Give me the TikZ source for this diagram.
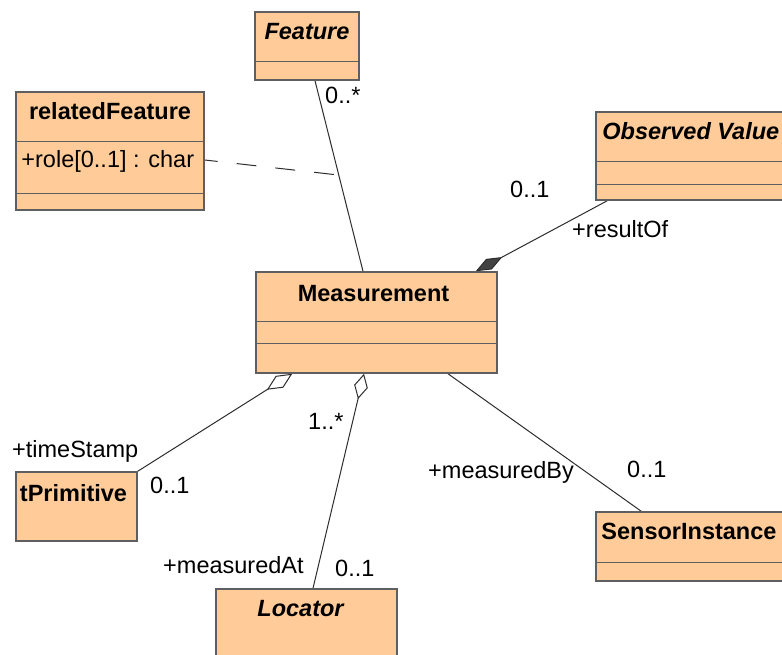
\documentclass[tikz,border=0pt]{standalone}
\usepackage{fontspec}
\setmainfont{Liberation Sans}
\usetikzlibrary{arrows.meta,calc,backgrounds}

\definecolor{classfill}{RGB}{255,204,153}
\definecolor{classline}{RGB}{95,95,95}
\definecolor{assocline}{RGB}{45,45,45}

\begin{document}
\begin{tikzpicture}[x=1pt,y=-1pt,
  umlfont/.style={font=\fontsize{23.5pt}{28pt}\selectfont},
  cls/.style 2 args={rectangle, draw=classline, fill=classfill, line width=1.5pt,
    inner sep=0pt, minimum width=#1, minimum height=#2},
  clsname/.style={umlfont, font=\fontsize{23.5pt}{28pt}\selectfont\bfseries, anchor=base, inner sep=0pt},
  absname/.style={clsname, font=\fontsize{23.5pt}{28pt}\selectfont\bfseries\itshape},
  divider/.style={draw=classline, line width=1.5pt},
  assoc/.style={draw=assocline, line width=1pt},
  lbl/.style={umlfont, anchor=base west, inner sep=0pt},
  aggr/.style={assoc, -{Diamond[open, length=#1, width=14pt, line width=1pt]}},
  compo/.style={assoc, -{Diamond[length=30pt, width=12pt, fill=assocline!90]}},
  dep/.style={assoc, dash pattern=on 20pt off 19pt, dash phase=7pt}]

\clip (0,0) rectangle (782,654);

% ---- classes ----
\node[cls={104}{68}] (feat) at (307,46) {};
\draw[divider] ([yshift=-50pt]feat.north west) -- ([yshift=-50pt]feat.north east);
\node[absname] (featname) at ([yshift=-28pt]feat.north) {Feature};

\node[cls={188}{118}] (rel) at (110,151) {};
\draw[divider] ([yshift=-50pt]rel.north west) -- ([yshift=-50pt]rel.north east);
\draw[divider] ([yshift=-102pt]rel.north west) -- ([yshift=-102pt]rel.north east);
\node[clsname] (relname) at ([yshift=-28pt]rel.north) {relatedFeature};
\node[lbl] (relattr) at ([xshift=6pt,yshift=-76pt]rel.north west) {+role[0..1] : char};

\node[cls={192}{88}] (obs) at (692,156) {};
\draw[divider] ([yshift=-50pt]obs.north west) -- ([yshift=-50pt]obs.north east);
\draw[divider] ([yshift=-73pt]obs.north west) -- ([yshift=-73pt]obs.north east);
\node[absname, anchor=base west] (obsname) at ([xshift=7pt,yshift=-28pt]obs.north west) {Observed Value};

\node[cls={241}{101}] (meas) at (376.5,322.5) {};
\draw[divider] ([yshift=-50pt]meas.north west) -- ([yshift=-50pt]meas.north east);
\draw[divider] ([yshift=-72pt]meas.north west) -- ([yshift=-72pt]meas.north east);
\node[clsname] (measname) at ([xshift=-3pt,yshift=-30pt]meas.north) {Measurement};

\node[cls={121}{69}] (tprim) at (76.5,506.5) {};
\node[clsname] (tprimname) at ([xshift=-3pt,yshift=-30pt]tprim.north) {tPrimitive};

\node[cls={181}{92}] (loc) at (306.5,635) {};
\node[absname] (locname) at ([xshift=-6pt,yshift=-28pt]loc.north) {Locator};

\node[cls={189}{69}] (sens) at (690.5,546.5) {};
\draw[divider] ([yshift=-51pt]sens.north west) -- ([yshift=-51pt]sens.north east);
\node[clsname, anchor=base west] (sensname) at ([xshift=6pt,yshift=-28pt]sens.north west) {SensorInstance};

% ---- associations (behind the class boxes) ----
\begin{scope}[on background layer]
  \fill[white] (0,0) rectangle (782,654);
  \coordinate (fmtop) at ([xshift=8pt]feat.south);
  \coordinate (fmbot) at ([xshift=-13.5pt]meas.north);
  \draw[assoc] (fmtop) -- (fmbot);
  \coordinate (fmmid) at ($(fmtop)!0.495!(fmbot)$);
  \draw[dep] ([yshift=-9pt]rel.east) -- (fmmid);

  \draw[compo] ([xshift=12pt]obs.south west) -- ([xshift=-22pt]meas.north east);
  \draw[aggr=30pt] (tprim.north east) -- ([xshift=37pt]meas.south west);
  \draw[aggr=26pt] ([xshift=6.5pt]loc.north) -- ([xshift=-12.5pt]meas.south);
  \draw[assoc] ([xshift=71.5pt]meas.south) -- ([xshift=46pt]sens.north west);
\end{scope}

% ---- role names and multiplicities ----
\node[lbl] (mfeat) at (325,103) {0..*};
\node[lbl] (mobs) at (510,197) {0..1};
\node[lbl] (robs) at (572,237) {+resultOf};
\node[lbl] (rtime) at (12,457) {+timeStamp};
\node[lbl] (mtime) at (150,493) {0..1};
\node[lbl] (mloc1) at (308,429) {1..*};
\node[lbl] (rloc) at (163,573) {+measuredAt};
\node[lbl] (mloc) at (335,576) {0..1};
\node[lbl] (rsens) at (428,478) {+measuredBy};
\node[lbl] (msens) at (627,477) {0..1};
\end{tikzpicture}
\end{document}
